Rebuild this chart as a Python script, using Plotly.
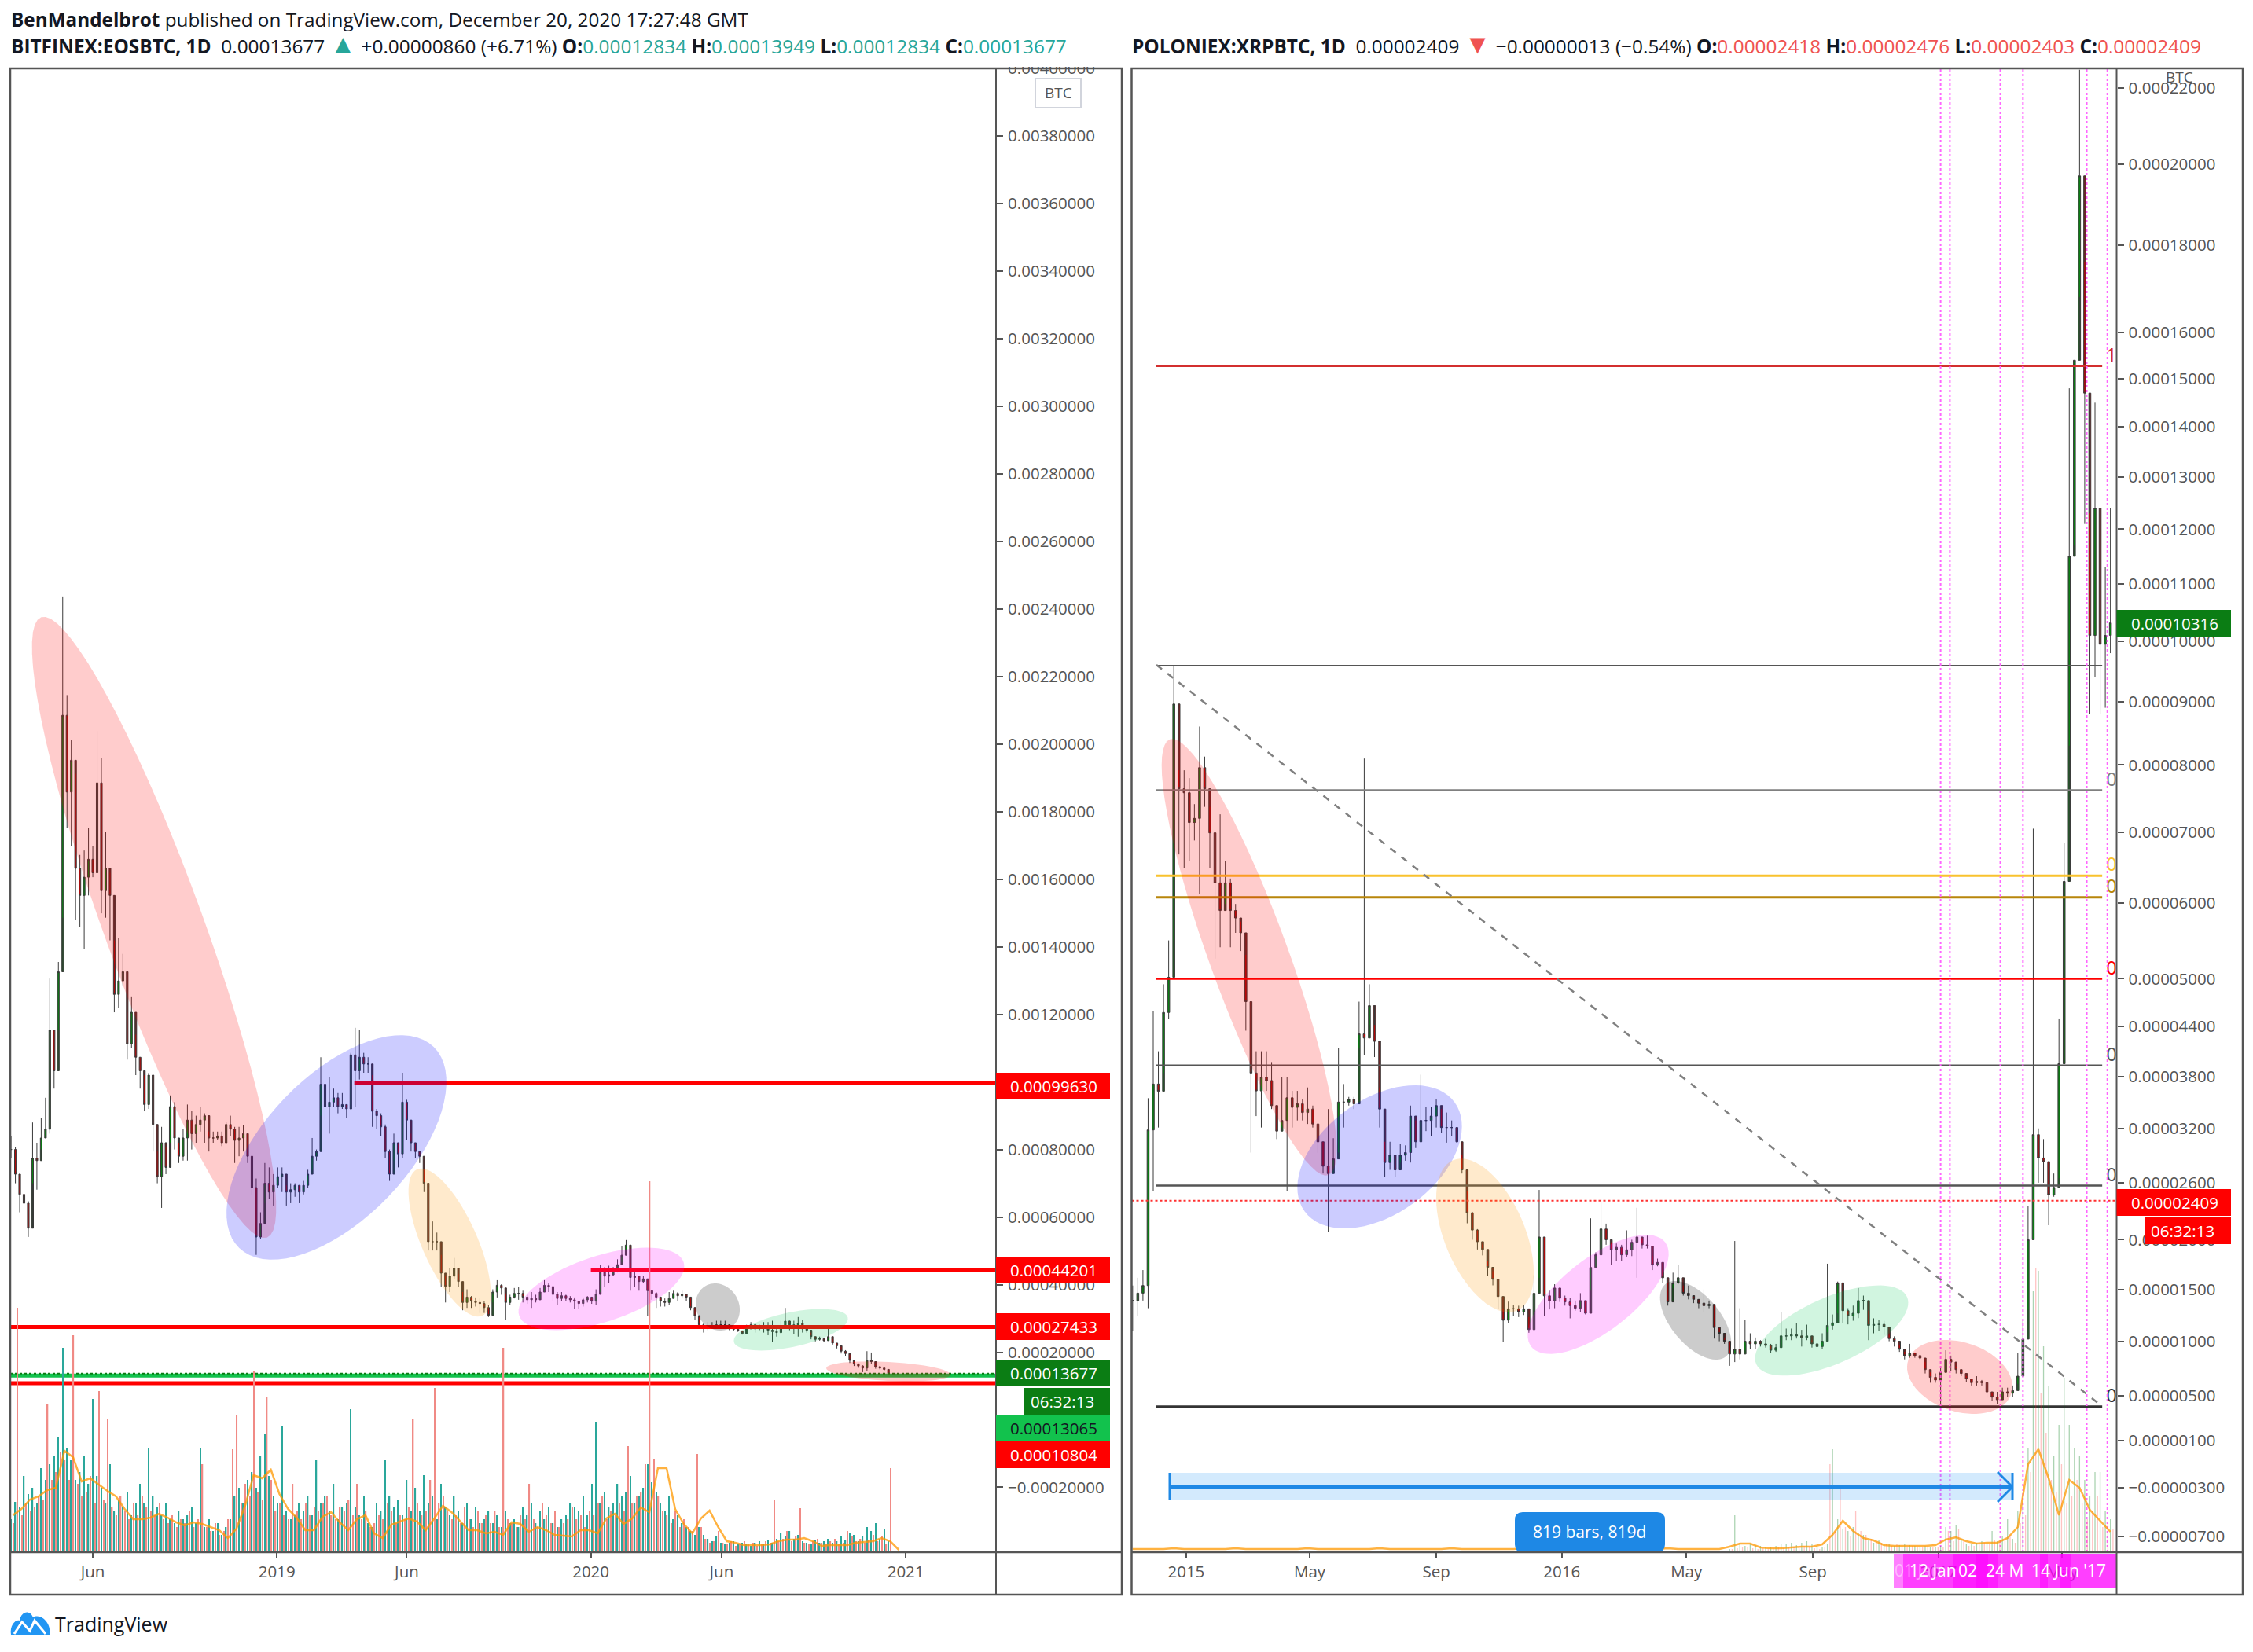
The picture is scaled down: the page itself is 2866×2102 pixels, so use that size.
import math
import numpy as np
import pandas as pd
import plotly.graph_objects as go

W, H = 2866, 2102
# browser's default page margin
OFF = 8
FIG_W, FIG_H = W - 2 * OFF, H - 2 * OFF
FONT = "Open Sans"
GREY = "#555555"

# EOSBTC, one bar per 5 days, prices in 1e-6 BTC
eos_start = "2018-02-26"
eos_close = [
    800,727,667,641,567,774,767,834,860,1153,
    1033,1326,2085,1858,1952,1632,1552,1606,1659,1619,
    1885,1566,1632,1552,1259,1299,1326,1113,1206,1073,
    1033,933,1020,874,720,820,747,927,834,780,
    834,887,847,874,887,900,834,834,840,820,
    874,860,827,834,847,780,687,541,581,700,
    674,694,720,727,674,681,694,674,694,727,
    780,794,993,927,940,953,927,933,920,1080,
    1033,1073,1053,1053,913,900,867,794,727,820,
    787,940,887,820,794,780,700,527,527,527,
    434,
    395,425,448,409,347,363,351,347,344,332,
    309,378,398,390,347,363,374,374,363,355,
    359,355,378,398,394,371,359,367,359,355,
    351,344,355,363,351,371,436,425,429,440,
    459,487,517,421,425,409,417,382,374,363,
    351,347,359,374,367,371,363,332,308,281,
    273,277,277,281,281,281,269,268,263,255,
    269,281,269,273,273,265,261,258,273,292,
    281,273,285,269,265,246,238,240,234,246,
    227,219,203,196,176,165,159,153,176,172,
    157,153,149,137,
]
eos_high = [
    840,807,720,694,647,880,820,893,953,1306,
    1153,1355,2437,2145,2011,1912,1672,1685,1752,1699,
    2038,1958,1739,1619,1419,1426,1379,1206,1253,1140,
    1073,1020,1027,913,794,867,807,960,940,820,
    860,933,913,900,927,907,853,853,853,853,
    880,900,867,867,873,847,740,714,614,760,
    747,727,747,747,694,700,700,694,707,740,
    834,800,1073,980,1013,980,967,967,933,1086,
    1160,1153,1086,1073,1020,920,907,874,800,847,
    820,1027,947,847,820,794,740,687,587,554,
    488,
    425,448,479,432,378,386,366,362,359,351,
    339,386,413,401,374,370,390,393,382,370,
    378,370,390,413,405,382,378,378,370,366,
    362,351,362,366,362,386,459,452,456,452,
    475,514,532,463,436,425,425,413,382,378,
    359,359,378,382,378,382,370,359,331,304,
    285,289,289,293,293,293,277,273,269,262,
    281,289,285,281,289,289,293,273,293,331,
    293,293,304,296,277,258,246,246,242,269,
    238,227,215,206,192,172,167,161,203,199,
    165,159,155,145,
]
eos_low = [
    774,700,614,621,541,700,681,800,840,847,
    980,1153,1486,1752,1699,1479,1459,1393,1552,1606,
    1739,1499,1486,1419,1206,1220,1286,1066,1100,1020,
    980,913,920,794,700,627,727,820,800,760,
    767,767,800,820,853,820,794,820,827,810,
    834,840,760,780,794,760,667,488,534,641,
    654,634,687,674,634,641,660,641,667,687,
    740,767,900,887,847,927,907,920,893,933,
    927,1007,1027,1027,867,860,840,774,707,767,
    747,774,827,794,774,760,674,501,501,501,
    394,
    347,378,417,393,324,331,331,335,316,316,
    304,347,362,370,296,339,359,355,347,343,
    331,347,359,378,378,351,339,351,351,347,
    328,328,335,347,343,339,378,393,405,425,
    436,467,502,382,393,382,405,308,355,331,
    335,335,339,359,351,359,351,324,296,273,
    258,265,269,269,273,277,265,263,260,252,
    265,269,258,265,258,250,231,246,254,277,
    265,254,246,258,258,238,232,234,231,234,
    221,211,196,188,168,159,153,141,145,165,
    151,149,144,136,
]
# volume per 5 days, same start
eos_vol_up = [
    40,62,55,95,72,80,60,105,90,110,
    120,145,258,130,115,90,100,120,85,193,
    95,80,60,110,50,65,55,75,45,60,
    85,60,131,70,55,45,60,40,35,50,
    40,45,55,35,131,30,40,25,35,20,
    30,40,70,80,60,90,100,80,120,148,
    95,70,60,158,50,40,45,60,50,70,
    45,115,60,70,50,85,40,55,60,180,
    55,45,70,35,30,60,50,115,70,55,
    65,45,90,50,80,50,96,60,70,40,
    85,55,45,70,50,35,60,40,55,35,
    40,50,35,45,30,50,35,40,30,55,
    45,60,35,50,40,55,35,30,40,45,
    60,55,50,70,45,85,164,60,75,55,
    60,85,70,75,95,60,70,80,110,87,
    75,60,50,70,40,45,35,30,25,20,
    30,20,15,12,18,10,8,10,12,8,
    10,8,6,10,12,8,14,10,15,22,
    18,25,15,20,12,10,8,14,10,12,
    15,10,12,18,14,22,20,12,18,30,
    25,35,15,28,12,
]
eos_vol_down = [
    35,309,45,60,50,55,70,65,186,90,
    100,125,115,90,274,85,70,75,95,60,
    203,65,167,55,45,70,50,40,60,45,
    70,55,50,45,60,40,35,45,30,40,
    35,50,30,40,110,30,25,35,20,25,
    40,129,173,60,85,70,228,75,65,195,
    90,50,60,45,40,85,50,40,60,45,
    55,50,60,70,45,40,55,50,65,45,
    85,40,50,30,35,45,40,60,50,35,
    45,40,55,167,60,45,50,90,207,60,
    70,50,40,45,35,55,40,30,50,35,
    45,35,50,30,258,40,35,30,45,40,
    85,40,30,60,45,35,50,30,35,40,
    55,40,45,30,50,45,60,70,40,50,
    45,60,50,133,60,70,75,110,470,117,
    70,50,45,35,50,30,40,30,25,123,
    30,15,10,12,25,10,8,12,6,8,
    12,8,10,6,8,12,10,64,12,15,
    25,12,18,54,10,8,12,15,10,8,
    12,15,8,10,25,18,12,15,10,14,
    20,12,18,8,105,
]
# volume average, one point per 10 days
eos_vol_avg = [
    45,53,65,69,77,80,127,119,88,92,84,76,69,53,40,40,42,47,42,36,
    32,36,34,30,26,16,28,57,96,92,103,72,53,42,26,26,43,49,36,26,
    40,45,22,16,33,37,41,37,26,41,57,49,38,26,26,22,24,20,36,34,
    24,30,26,20,19,18,26,26,22,41,47,34,41,55,49,105,105,53,34,22,
    41,51,30,12,10,7,7,7,8,12,14,14,16,12,6,7,7,7,10,11,12,16,12,1,
]
eos_ticks = [0.0040,0.0038,0.0036,0.0034,0.0032,0.0030,0.0028,0.0026,0.0024,0.0022,0.0020,0.0018,
             0.0016,0.0014,0.0012,0.0010,0.0008,0.0006,0.0004,0.0002,0.0,-0.0002]
eos_x_ticks = ["2018-06-01","2019-01-01","2019-06-01","2020-01-01","2020-06-01","2021-01-01"]
eos_x_labels = ["Jun","2019","Jun","2020","Jun","2021"]

# XRPBTC, one bar per 5 days, prices in satoshi
xrp_start = "2014-11-10"
xrp_close = [
    1390,1463,1538,3183,3710,3627,4575,5020,8960,7640,
    7580,7140,7200,7960,7640,6990,6280,5900,6280,5900,
    5800,5600,4710,3840,3630,3790,3750,3460,3170,3290,
    3550,3440,3480,3380,3420,3250,3050,2780,2700,2860,
    3500,3500,3530,3480,4310,4260,4660,4220,3420,2820,
    2900,2740,2900,2930,3340,3050,3290,3290,3340,3460,
    3210,3210,3210,3050,2740,2280,2100,1980,1900,1720,
    1600,1430,1200,1310,1310,1280,1310,1110,
    1461,2028,1437,1389,1513,1414,1377,1341,1316,1390,
    1267,1718,1846,2111,2000,1897,1922,1846,1897,1974,
    2028,1948,1935,1743,1769,1615,1377,1564,1615,1463,
    1439,1402,1365,1341,1353,1130,1075,1000,880,925,
    880,1000,975,1000,975,960,915,940,1050,
    1050,1060,1050,1035,1050,975,950,1000,1150,1175,
    1564,1292,1243,1267,1390,1390,1150,1160,1160,1135,
    1025,1000,925,865,890,865,842,735,664,640,
    710,830,805,735,700,650,616,627,616,532,
    485,461,532,520,544,675,1020,
    2000,3130,2870,2830,2470,2550,3950,6300,11500,15400,19700,14700,10100,12400,9950,10100,10316,
]
xrp_high = [
    1538,1615,1692,3545,4594,4100,4930,5500,9590,7920,
    7920,7800,7410,8600,8130,7370,6590,7260,6590,6340,
    5990,5750,5310,4490,4100,4100,4100,3970,3420,3790,
    3790,3630,3630,3530,3670,3460,3250,3050,3420,3090,
    4140,3710,3560,3560,4710,8100,4930,4420,3670,3050,
    3050,2800,3030,3010,3460,3290,3820,3440,3440,3530,
    3420,3380,3290,3210,2900,2510,2290,2110,1950,1780,
    1680,1510,1310,1380,1350,1340,1350,1230,
    1641,2523,2028,1487,1551,1463,1439,1414,1390,1463,
    1390,2222,1871,2431,2167,1974,1961,1948,2097,2000,
    2333,2014,2042,1833,1807,1692,1564,1666,1743,1538,
    1538,1426,1390,1500,1390,1341,1132,1035,1000,1987,
    1316,1206,1075,1035,1010,1022,975,975,1279,
    1120,1120,1169,1108,1157,1010,985,1075,1756,1255,
    1577,1390,1316,1341,1513,1439,1292,1218,1206,1194,
    1060,1046,960,900,975,890,865,805,710,700,
    760,915,865,760,725,675,650,675,640,580,
    520,532,570,570,590,890,1194,
    2350,7050,3200,3080,2830,2700,4500,6850,14800,15400,22500,17600,12300,14500,10900,11300,12400,
]
xrp_low = [
    1096,1243,1390,1316,2510,3210,3840,4490,5500,6680,
    6490,6590,6880,6130,7370,6490,5260,5410,5990,5410,
    5600,5360,4350,2930,3340,3210,3630,3420,3080,3210,
    2510,3210,3290,3290,3250,3210,2930,2700,2080,2780,
    2930,3210,3460,3420,4140,4050,4420,4030,3210,2660,
    2740,2660,2820,2840,2820,2980,3130,3170,3110,3210,
    3150,3040,3110,3040,2700,2170,2000,1900,1840,1630,
    1540,1310,990,1170,1240,1230,1250,1080,
    1194,1615,1243,1304,1316,1377,1341,1218,1292,1279,
    1255,1488,1718,1974,1948,1743,1782,1782,1820,1833,
    1615,1910,1910,1692,1730,1564,1341,1513,1551,1439,
    1402,1365,1316,1279,1316,1025,1000,975,770,805,
    830,915,925,925,950,940,890,900,975,
    1010,1010,1025,950,1010,940,925,925,1085,1110,
    1267,1170,1160,1195,1220,1300,1010,1075,1095,1060,
    1000,950,900,830,845,845,820,700,615,615,
    420,735,725,700,675,625,590,590,590,480,
    450,425,495,485,485,605,905,
    1300,2000,2600,2600,2150,2450,2650,3950,8300,11700,16800,12100,8800,9400,8800,8900,9800,
]
xrp_vol_start = "2016-06-12"
xrp_vol_up = [
    2,45,10,6,8,7,6,5,5,6,
    8,8,10,7,10,12,9,6,5,8,
    129,40,28,25,30,22,20,14,10,14,
    8,8,6,7,8,7,6,5,6,5,
    5,6,30,25,32,15,8,8,10,12,
    10,25,12,18,40,15,50,70,130,330,
    356,260,210,120,160,220,160,130,120,90,
    70,100,100,50,40,
]
xrp_vol_down = [
    2,3,5,4,3,2,3,2,3,4,
    3,5,4,3,6,4,3,2,4,110,
    25,78,30,18,51,25,20,15,12,10,
    8,6,8,6,5,6,5,4,5,4,
    5,4,25,12,28,12,6,6,8,10,
    8,14,10,12,20,10,35,45,100,360,
    200,150,90,75,110,60,70,90,60,40,
    50,70,30,35,28,
]
# volume average, one point per 10 days
xrp_vol_avg = [
    2,2,2,2,3,2,2,2,2,2,3,2,2,2,2,2,2,3,2,2,2,2,2,2,3,2,2,2,2,2,
    2,3,2,2,2,2,2,2,3,2,2,2,2,2,2,3,2,2,2,2,2,2,3,2,2,2,2,2,
    5,9,9,4,3,3,4,5,5,8,20,38,25,16,13,7,6,6,6,6,7,14,17,12,9,10,10,16,30,110,
    129,92,45,90,80,52,38,24,
]
xrp_ticks = [22000,20000,18000,16000,15000,14000,13000,12000,11000,10000,9000,8000,7000,6000,5000,
             4400,3800,3200,2600,2000,1500,1000,500,100,-300,-700]
xrp_x_ticks = ["2015-01-01","2015-05-01","2015-09-01","2016-01-01","2016-05-01","2016-09-01","2017-01-01","2017-05-01"]
xrp_x_labels = ["2015","May","Sep","2016","May","Sep","2017","May"]

# fib levels on the XRP pane, satoshi
fib_levels = [15270,9590,7620,6380,6080,5000,3930,2570,399]
fib_labels = ["1","","0.786","0.65","0.618","0.5","0.382","0.236","0"]
fib_colors = ["#d32f2f","#555555","#808080","#f9c22e","#b8860b","#ff0000","#555555","#555555","#333333"]
fib_widths = [2,2,2,3,3,2.5,2.5,2.5,3]

cycle_dates = ["2017-01-03","2017-01-12","2017-03-02","2017-03-24","2017-05-25","2017-06-14"]

# level lines on the EOS pane
eos_levels = [0.00099630,0.00044201,0.00027433,0.00013065,0.00010804]
eos_level_start = ["2019-04-01","2020-01-01","2018-02-25","2018-02-25","2018-02-25"]
eos_level_colors = ["#ff0000","#ff0000","#ff0000","#12c24d","#ff0000"]

# price -> axis value for the XRP pane (TradingView's shifted log scale)
XRP_SHIFT = 10200


def xrp_axis(values):
    return (np.array(values, dtype=float) + XRP_SHIFT) * 1e-8


def px(x):
    return (x - OFF) / FIG_W


def py(y):
    return 1 - (y - OFF) / FIG_H


def ellipse(cx, cy, a, b, angle, color):
    t = np.linspace(0, 2 * np.pi, 73)[:-1]
    th = math.radians(angle)
    xs = cx + a * np.cos(t) * math.cos(th) - b * np.sin(t) * math.sin(th)
    ys = cy + a * np.cos(t) * math.sin(th) + b * np.sin(t) * math.cos(th)
    path = "M " + " L ".join(f"{px(x):.5f} {py(y):.5f}" for x, y in zip(xs, ys)) + " Z"
    return dict(type="path", xref="paper", yref="paper", path=path, fillcolor=color,
                line=dict(width=0), layer="above")


def rect(x0, y0, x1, y1, fill, line=None, lw=0):
    return dict(type="rect", xref="paper", yref="paper", x0=px(x0), x1=px(x1), y0=py(y0), y1=py(y1),
                fillcolor=fill, line=dict(width=lw, color=line or fill), layer="above")


def seg(x0, y0, x1, y1, color=GREY, width=2.5, dash="solid"):
    return dict(type="line", xref="paper", yref="paper", x0=px(x0), x1=px(x1), y0=py(y0), y1=py(y1),
                line=dict(color=color, width=width, dash=dash), layer="above")


def text(x, y, s, size=20.5, color="white", anchor="left", family=FONT):
    return dict(xref="paper", yref="paper", x=px(x), y=py(y), text=s, showarrow=False,
                xanchor=anchor, yanchor="middle", align="left", borderpad=0,
                font=dict(family=family, size=size, color=color))


def candles(dates, o, h, l, c, xa, ya):
    return go.Candlestick(x=dates, open=o, high=h, low=l, close=c, xaxis=xa, yaxis=ya, showlegend=False,
                          whiskerwidth=0,
                          increasing=dict(line=dict(color="#3a3a3a", width=1), fillcolor="#0b7d14"),
                          decreasing=dict(line=dict(color="#3a3a3a", width=1), fillcolor="#b00a0a"))


assert len(eos_close) == len(eos_high) == len(eos_low)
assert len(xrp_close) == len(xrp_high) == len(xrp_low)
assert len(eos_vol_up) == len(eos_vol_down)
assert len(xrp_vol_up) == len(xrp_vol_down)

fig = go.Figure()

# EOS pane
eos_dates = pd.date_range(eos_start, periods=len(eos_close), freq="5D")
eos_c = np.array(eos_close) * 1e-6
eos_o = np.r_[eos_c[0], eos_c[:-1]]
fig.add_trace(go.Bar(x=pd.date_range(eos_start, periods=len(eos_vol_up), freq="5D"), y=eos_vol_up,
                     width=1.3 * 86400000, marker=dict(color="#2aa79b", line=dict(width=0)),
                     xaxis="x", yaxis="y3", showlegend=False))
fig.add_trace(go.Bar(x=pd.date_range(eos_start, periods=len(eos_vol_down), freq="5D") + pd.Timedelta(hours=60),
                     y=eos_vol_down, width=1.3 * 86400000, marker=dict(color="#f08a85", line=dict(width=0)),
                     xaxis="x", yaxis="y3", showlegend=False))
fig.add_trace(go.Scatter(x=pd.date_range("2018-02-28", periods=len(eos_vol_avg), freq="10D"), y=eos_vol_avg,
                         mode="lines", line=dict(color="rgba(255,152,0,0.75)", width=2.5),
                         xaxis="x", yaxis="y3", showlegend=False))
fig.add_trace(candles(eos_dates, eos_o, np.array(eos_high) * 1e-6, np.array(eos_low) * 1e-6, eos_c, "x", "y"))
for lvl, start, col in zip(eos_levels, eos_level_start, eos_level_colors):
    fig.add_trace(go.Scatter(x=[start, "2021-04-17"], y=[lvl, lvl], mode="lines", xaxis="x", yaxis="y",
                             line=dict(color=col, width=5), showlegend=False))
fig.add_trace(go.Scatter(x=["2018-02-25", "2021-04-17"], y=[0.00013677, 0.00013677], mode="lines", xaxis="x", yaxis="y",
                         line=dict(color="#0b7d14", width=2, dash="dot"), showlegend=False))

# XRP pane
xrp_dates = pd.date_range(xrp_start, periods=len(xrp_close), freq="5D")
xrp_o = [xrp_close[0]] + xrp_close[:-1]
fig.add_trace(go.Bar(x=pd.date_range(xrp_vol_start, periods=len(xrp_vol_up), freq="5D"), y=xrp_vol_up,
                     width=1.0 * 86400000, marker=dict(color="rgba(0,120,20,0.33)", line=dict(width=0)),
                     xaxis="x2", yaxis="y4", showlegend=False))
fig.add_trace(go.Bar(x=pd.date_range(xrp_vol_start, periods=len(xrp_vol_down), freq="5D") + pd.Timedelta(hours=60),
                     y=xrp_vol_down, width=1.0 * 86400000, marker=dict(color="rgba(255,40,40,0.28)", line=dict(width=0)),
                     xaxis="x2", yaxis="y4", showlegend=False))
fig.add_trace(go.Scatter(x=pd.date_range(xrp_start, periods=len(xrp_vol_avg), freq="10D"), y=xrp_vol_avg,
                         mode="lines", line=dict(color="rgba(255,152,0,0.75)", width=2.5),
                         xaxis="x2", yaxis="y4", showlegend=False))
fig.add_trace(candles(xrp_dates, xrp_axis(xrp_o), xrp_axis(xrp_high), xrp_axis(xrp_low), xrp_axis(xrp_close), "x2", "y2"))
for lvl, col, lw in zip(fib_levels, fib_colors, fib_widths):
    fig.add_trace(go.Scatter(x=["2014-12-03", "2017-06-09"], y=xrp_axis([lvl, lvl]), mode="lines", xaxis="x2", yaxis="y2",
                             line=dict(color=col, width=lw), showlegend=False))
fig.add_trace(go.Scatter(x=["2017-06-13"] * len(fib_levels), y=xrp_axis(fib_levels), mode="text", text=fib_labels,
                         textposition="top right", textfont=dict(family=FONT, size=23, color=fib_colors),
                         xaxis="x2", yaxis="y2", showlegend=False))
fig.add_trace(go.Scatter(x=["2014-11-09", "2017-06-24"], y=xrp_axis([2409, 2409]), mode="lines", xaxis="x2", yaxis="y2",
                         line=dict(color="#ff3030", width=2, dash="dot"), showlegend=False))
for d in cycle_dates:
    fig.add_trace(go.Scatter(x=[d, d], y=xrp_axis([-824, 22536]), mode="lines", xaxis="x2", yaxis="y2",
                             line=dict(color="#ff66ff", width=2, dash="dot"), showlegend=False))

# the two sets of drawings and axis furniture
shapes = []
for cx, cy, a, b, ang, col in [
    (196, 1180, 420, 63, 70, "rgba(255,0,0,0.2)"),
    (428, 1460, 178, 91, -46, "rgba(0,0,255,0.2)"),
    (572, 1581, 102, 35, 66, "rgba(255,152,0,0.2)"),
    (765, 1640, 110, 42, -18, "rgba(255,0,255,0.2)"),
    (913, 1663, 31, 27, 60, "rgba(0,0,0,0.2)"),
    (1006, 1692, 74, 22, -12, "rgba(0,200,83,0.18)"),
    (1130, 1745, 79, 12, 3, "rgba(255,0,0,0.2)"),
    (1589, 1218, 295, 50, 70, "rgba(255,0,0,0.2)"),
    (1755, 1472, 118, 73, -36, "rgba(0,0,255,0.2)"),
    (1889, 1572, 104, 51, 67, "rgba(255,152,0,0.2)"),
    (2033, 1647, 108, 46, -38, "rgba(255,0,255,0.2)"),
    (2157, 1680, 60, 31, 50, "rgba(0,0,0,0.2)"),
    (2330, 1693, 105, 42, -24, "rgba(0,200,83,0.18)"),
    (2493, 1752, 69, 44, 18, "rgba(255,0,0,0.2)"),
]:
    shapes.append(ellipse(cx, cy, a, b, ang, col))

# dashed diagonal of the fib tool
shapes.append(seg(1471, 846, 2675, 1790, color="#808080", width=2.5, dash="dash"))

# bars-count tool
shapes.append(rect(1488, 1874, 2560, 1909, "rgba(33,150,243,0.2)"))
shapes.append(seg(1488, 1892, 2560, 1892, "#1e88e5", 4))
shapes.append(seg(1488, 1874, 1488, 1909, "#1e88e5", 3))
shapes.append(seg(2560, 1874, 2560, 1909, "#1e88e5", 3))
shapes.append(seg(2541, 1873, 2560, 1892, "#1e88e5", 3))
shapes.append(seg(2541, 1911, 2560, 1892, "#1e88e5", 3))
shapes.append(dict(type="path", xref="paper", yref="paper", fillcolor="#1e88e5", line=dict(width=0), layer="above",
                   path=(f"M {px(1937)} {py(1924)} L {px(2108)} {py(1924)} Q {px(2118)} {py(1924)} {px(2118)} {py(1934)} "
                         f"L {px(2118)} {py(1965)} Q {px(2118)} {py(1975)} {px(2108)} {py(1975)} L {px(1937)} {py(1975)} "
                         f"Q {px(1927)} {py(1975)} {px(1927)} {py(1965)} L {px(1927)} {py(1934)} Q {px(1927)} {py(1924)} {px(1937)} {py(1924)} Z")))

# magenta time labels
for x0, x1 in [(2409, 2529), (2421, 2541), (2485, 2605), (2514, 2634), (2595, 2692), (2621, 2692)]:
    shapes.append(rect(x0, 1977, x1, 2020, "rgba(255,0,255,0.5)"))

# cover for the clipped top tick
shapes.append(rect(1269, 66, 1426, 85, "white"))

# frames
for x0, xa, x1 in [(13, 1267, 1427), (1439.5, 2692.5, 2853)]:
    shapes.append(rect(x0, 87, x1, 2029, "rgba(0,0,0,0)", GREY, 2.5))
    shapes.append(seg(xa, 87, xa, 2029, GREY, 2))
    shapes.append(seg(x0, 1975, x1, 1975, GREY, 2.5))

annotations = []
# header
annotations.append(text(13, 24, "<b>BenMandelbrot</b> published on TradingView.com, December 20, 2020 17:27:48 GMT",
                        size=24.3, color="#131722"))
teal = "#26a69a"
red = "#ef5350"


def colored(s, c):
    return f'<span style="color:{c}">{s}</span>'


def arrow(s, c):
    return f'<span style="color:{c};font-size:34px">{s}</span>'


annotations.append(text(13, 55, "<b>BITFINEX:EOSBTC, 1D</b>  0.00013677 " + arrow("▲", teal) + " +0.00000860 (+6.71%) "
                        + "<b>O:</b>" + colored("0.00012834", teal) + " <b>H:</b>" + colored("0.00013949", teal)
                        + " <b>L:</b>" + colored("0.00012834", teal) + " <b>C:</b>" + colored("0.00013677", teal),
                        size=24.4, color="#131722"))
annotations.append(text(1439, 55, "<b>POLONIEX:XRPBTC, 1D</b>  0.00002409 " + arrow("▼", red) + " −0.00000013 (−0.54%) "
                        + "<b>O:</b>" + colored("0.00002418", red) + " <b>H:</b>" + colored("0.00002476", red)
                        + " <b>L:</b>" + colored("0.00002403", red) + " <b>C:</b>" + colored("0.00002409", red),
                        size=24.4, color="#131722"))

# price labels on the axes
for x0, y0, x1, y1, col, s, tc, tx in [
    (1267, 1365, 1412, 1399, "#ff0000", "0.00099630", "white", 1284),
    (1267, 1599, 1412, 1633, "#ff0000", "0.00044201", "white", 1284),
    (1267, 1671, 1412, 1705, "#ff0000", "0.00027433", "white", 1284),
    (1267, 1730, 1412, 1764, "#0b7d14", "0.00013677", "white", 1284),
    (1302, 1766, 1412, 1800, "#0b7d14", "06:32:13", "white", 1310),
    (1267, 1800, 1412, 1834, "#12c24d", "0.00013065", "#131722", 1284),
    (1267, 1834, 1412, 1868, "#ff0000", "0.00010804", "white", 1284),
    (2692.5, 776, 2838, 810, "#0b7d14", "0.00010316", "white", 2710),
    (2692.5, 1513, 2838, 1547, "#ff0000", "0.00002409", "white", 2710),
    (2728, 1549, 2838, 1583, "#ff0000", "06:32:13", "white", 2735),
]:
    shapes.append(rect(x0, y0, x1, y1, col))
    annotations.append(text(tx, (y0 + y1) / 2, s, color=tc))

annotations.append(text(2022, 1949, "819 bars, 819d", size=21, anchor="center"))

# BTC badges
shapes.append(dict(type="rect", xref="paper", yref="paper", x0=px(1317), x1=px(1375), y0=py(100), y1=py(137),
                   fillcolor="white", line=dict(color="#d1d4dc", width=2), layer="above"))
annotations.append(text(1346, 118, "BTC", size=19, color=GREY, anchor="center"))
annotations.append(text(2772, 98, "BTC", size=19, color=GREY, anchor="center"))

# time labels over the magenta strip
annotations.append(text(2440, 1998, "01 Jan", size=21, color="rgba(255,255,255,0.45)", anchor="center"))
annotations.append(text(2459, 1998, "12 Jan", size=21, anchor="center"))
annotations.append(text(2503, 1998, "02", size=21, anchor="center"))
annotations.append(text(2550, 1998, "24 M", size=21, anchor="center"))
annotations.append(text(2631, 1998, "14 Jun '17", size=21, anchor="center"))

# TradingView logo
shapes.append(dict(type="path", xref="paper", yref="paper", fillcolor="#2196f3", line=dict(width=0), layer="above",
                   path=(f"M {px(14)} {py(2080)} C {px(12)} {py(2068)} {px(20)} {py(2060)} {px(25)} {py(2062)} "
                         f"C {px(27)} {py(2050)} {px(38)} {py(2048)} {px(42)} {py(2058)} "
                         f"C {px(52)} {py(2052)} {px(66)} {py(2066)} {px(63)} {py(2080)} Z")))
shapes.append(dict(type="path", xref="paper", yref="paper", line=dict(color="white", width=3), layer="above",
                   path=(f"M {px(18)} {py(2079)} L {px(28)} {py(2064)} L {px(38)} {py(2075)} "
                         f"L {px(44)} {py(2062)} L {px(58)} {py(2079)}")))
annotations.append(text(69, 2066, "TradingView", size=25, color="#131722"))

tick_font = dict(family=FONT, size=20.5, color=GREY)
dom_y = [py(1975), py(87)]

fig.update_layout(
    width=FIG_W, height=FIG_H, margin=dict(l=0, r=0, t=0, b=0, autoexpand=False), autosize=False,
    paper_bgcolor="white", plot_bgcolor="white", showlegend=False, barmode="overlay", boxgap=0.45,
    shapes=shapes, annotations=annotations, hovermode=False,
    xaxis=dict(domain=[px(13), px(1267)], type="date", range=["2018-02-25", "2021-04-16"], anchor="y",
               showgrid=False, rangeslider=dict(visible=False), tickmode="array", tickvals=eos_x_ticks,
               ticktext=eos_x_labels, ticks="outside", ticklen=6, tickwidth=2, tickcolor=GREY, tickfont=tick_font),
    yaxis=dict(domain=dom_y, range=[-0.000392, 0.0040], side="right", anchor="x", showgrid=False, zeroline=False,
               tickmode="array", tickvals=eos_ticks,
               ticktext=[f"{v:.8f}".replace("-", "−") for v in eos_ticks],
               ticks="outside", ticklen=8, tickwidth=2, tickcolor=GREY, tickfont=tick_font, ticklabelstandoff=2),
    xaxis2=dict(domain=[px(1439.5), px(2692.5)], type="date", range=["2014-11-09", "2017-06-23"], anchor="y2",
                showgrid=False, rangeslider=dict(visible=False), tickmode="array", tickvals=xrp_x_ticks,
                ticktext=xrp_x_labels, ticks="outside", ticklen=6, tickwidth=2, tickcolor=GREY, tickfont=tick_font),
    yaxis2=dict(domain=dom_y, type="log", range=[math.log10((-824 + XRP_SHIFT) * 1e-8), math.log10((22536 + XRP_SHIFT) * 1e-8)],
                side="right", anchor="x2", showgrid=False, zeroline=False, tickmode="array",
                tickvals=xrp_axis(xrp_ticks).tolist(),
                ticktext=[f"{v * 1e-8:.8f}".replace("-", "−") for v in xrp_ticks],
                ticks="outside", ticklen=8, tickwidth=2, tickcolor=GREY, tickfont=tick_font, ticklabelstandoff=2),
    yaxis3=dict(overlaying="y", range=[-2, 1886], visible=False, anchor="x"),
    yaxis4=dict(overlaying="y2", range=[-2, 1886], visible=False, anchor="x2"),
)

fig.write_html("out.html")
